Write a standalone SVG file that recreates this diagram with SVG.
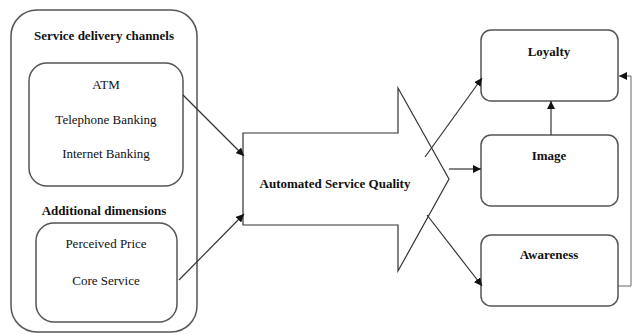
<svg xmlns="http://www.w3.org/2000/svg" width="633" height="334" viewBox="0 0 633 334">
<defs>
<style>
.box{fill:#fff;stroke:#555;stroke-width:1.5}
text{font-family:'Liberation Serif','Times New Roman','DejaVu Serif',serif;font-size:13px;fill:#111;text-anchor:middle}
.b{font-weight:bold}
.c{fill:none;stroke:#333;stroke-width:1.2}
.f{fill:none;stroke:#666;stroke-width:1}
</style>
<marker id="ah" viewBox="0 0 10 10" refX="10" refY="5" markerWidth="8" markerHeight="8" markerUnits="userSpaceOnUse" orient="auto">
<path d="M0,0 L10,5 L0,10 z" fill="#111"/>
</marker>
</defs>
<rect width="633" height="334" fill="#fff"/>
<g id="outer">
<rect class="box" x="11" y="10" width="186" height="322" rx="26"/>
<text class="b" x="104" y="40" font-family="Liberation Serif, serif">Service delivery channels</text>
<text class="b" x="104" y="215" font-family="Liberation Serif, serif">Additional dimensions</text>
</g>
<g id="channels">
<rect class="box" x="29" y="63" width="154" height="123" rx="18"/>
<text x="106" y="89" font-family="Liberation Serif, serif">ATM</text>
<text x="106" y="124" font-family="Liberation Serif, serif">Telephone Banking</text>
<text x="106" y="158" font-family="Liberation Serif, serif">Internet Banking</text>
</g>
<g id="dimensions">
<rect class="box" x="36" y="223" width="141" height="99" rx="18"/>
<text x="106" y="248" font-family="Liberation Serif, serif">Perceived Price</text>
<text x="106" y="285" font-family="Liberation Serif, serif">Core Service</text>
</g>
<g id="asq">
<path class="box" d="M243,133 L398,133 L398,88 L449,179 L398,271 L398,225 L243,225 Z" style="stroke:#333;stroke-width:1.2"/>
<text class="b" x="335" y="188" font-family="Liberation Serif, serif">Automated Service Quality</text>
</g>
<g id="loyalty">
<rect class="box" x="481" y="30" width="137" height="71" rx="10"/>
<text class="b" x="549" y="56" font-family="Liberation Serif, serif">Loyalty</text>
</g>
<g id="image">
<rect class="box" x="481" y="135" width="137" height="71" rx="10"/>
<text class="b" x="549" y="160" font-family="Liberation Serif, serif">Image</text>
</g>
<g id="awareness">
<rect class="box" x="481" y="235" width="137" height="71" rx="10"/>
<text class="b" x="549" y="259" font-family="Liberation Serif, serif">Awareness</text>
</g>
<g id="connectors">
<line class="c" x1="183" y1="95" x2="244" y2="156" marker-end="url(#ah)"/>
<line class="c" x1="179" y1="280" x2="244" y2="214" marker-end="url(#ah)"/>
<line class="c" x1="425" y1="157" x2="482" y2="78" marker-end="url(#ah)"/>
<line class="c" x1="449" y1="169" x2="481" y2="169" marker-end="url(#ah)"/>
<line class="c" x1="427" y1="215" x2="482" y2="286" marker-end="url(#ah)"/>
<line class="c" x1="551" y1="135" x2="551" y2="101" marker-end="url(#ah)"/>
<polyline class="f" points="618,286 631,286 631,76 619,76" marker-end="url(#ah)"/>
</g>
</svg>
